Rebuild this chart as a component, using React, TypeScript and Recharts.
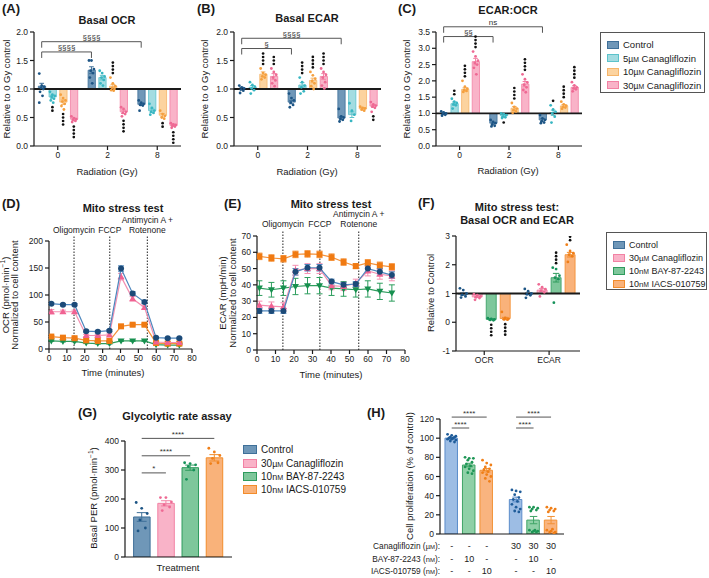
import React from 'react';
import { ComposedChart, Bar, Cell, Scatter, ErrorBar, XAxis, YAxis, ReferenceLine } from 'recharts';

const FONT = 'Arial, "Liberation Sans", Helvetica, sans-serif';
const INK = '#1a1a1a';

// ---------- (A)-(C): radiation dose x canagliflozin ----------
const doseLabels = ['0', '2', '8'];
const canaNames = ['Control', '5µM Canagliflozin', '10µM Canagliflozin', '30µM Canagliflozin'];

// all [series][dose]
const ocrMean = [[1.05, 1.33, 0.73], [0.86, 1.2, 0.62], [0.77, 1.05, 0.54], [0.47, 0.6, 0.36]];
const ocrSem = [[0.05, 0.06, 0.02], [0.03, 0.04, 0.03], [0.04, 0.03, 0.03], [0.02, 0.03, 0.02]];
const ocrDots = [
  [[1.27, 1.06, 1.04, 1.02, 1.0, 0.95, 0.88, 0.76], [1.5, 1.5, 1.35, 1.32, 1.28, 1.2, 1.1], [0.8, 0.76, 0.74, 0.72, 0.71, 0.62]],
  [[0.95, 0.9, 0.88, 0.86, 0.83, 0.8, 0.76], [1.32, 1.28, 1.22, 1.2, 1.16, 1.1, 1.06], [0.74, 0.67, 0.62, 0.6, 0.58, 0.55]],
  [[0.9, 0.84, 0.8, 0.78, 0.74, 0.7, 0.64], [1.2, 1.1, 1.05, 1.02, 1.0, 0.98, 0.97], [0.62, 0.56, 0.53, 0.5, 0.48]],
  [[0.52, 0.49, 0.47, 0.46, 0.44, 0.42], [0.68, 0.65, 0.6, 0.58, 0.56, 0.52], [0.4, 0.38, 0.37, 0.36, 0.34, 0.32]],
];
const ocrStars = [[0, 0, 0], [-2, 0, 0], [-4, 4, -2], [-4, -4, -4]];
const ocrBrackets = [{ a: 0, b: 1, y: 1.65, text: '§§§§' }, { a: 0, b: 2, y: 1.83, text: '§§§§' }];

const ecarMean = [[1.01, 0.77, 0.49], [1.03, 1.07, 0.55], [1.26, 1.15, 0.65], [1.22, 1.22, 0.7]];
const ecarSem = [[0.02, 0.03, 0.03], [0.03, 0.04, 0.05], [0.04, 0.04, 0.02], [0.05, 0.05, 0.02]];
const ecarDots = [
  [[1.06, 1.03, 1.01, 0.99, 0.97, 0.93], [0.92, 0.84, 0.8, 0.76, 0.72, 0.68], [0.65, 0.52, 0.5, 0.48, 0.46, 0.43]],
  [[1.12, 1.07, 1.04, 1.01, 0.98, 0.92], [1.2, 1.12, 1.06, 1.03, 0.96, 0.92], [0.75, 0.62, 0.55, 0.44]],
  [[1.36, 1.28, 1.25, 1.22, 1.2, 1.17], [1.3, 1.24, 1.18, 1.14, 1.1, 1.05, 1.0], [0.69, 0.67, 0.66, 0.64, 0.62]],
  [[1.36, 1.3, 1.25, 1.2, 1.15, 1.1, 1.05], [1.36, 1.3, 1.25, 1.2, 1.12, 1.06, 1.01], [0.77, 0.73, 0.71, 0.69, 0.67, 0.6]],
];
const ecarStars = [[0, 0, 0], [0, 4, 0], [4, 4, 0], [3, 4, -2]];
const ecarBrackets = [{ a: 0, b: 1, y: 1.71, text: '§' }, { a: 0, b: 2, y: 1.89, text: '§§§§' }];

const ratioMean = [[0.99, 0.7, 0.8], [1.3, 0.93, 1.02], [1.74, 1.16, 1.23], [2.59, 1.9, 1.8]];
const ratioSem = [[0.02, 0.03, 0.04], [0.05, 0.03, 0.08], [0.05, 0.05, 0.04], [0.1, 0.08, 0.05]];
const ratioDots = [
  [[1.06, 1.03, 1.0, 0.98, 0.96, 0.93], [0.8, 0.74, 0.7, 0.66, 0.62, 0.6], [0.95, 0.85, 0.8, 0.76, 0.72, 0.7]],
  [[1.45, 1.36, 1.32, 1.28, 1.25, 1.15], [1.0, 0.98, 0.95, 0.9, 0.88, 0.86], [1.25, 1.12, 1.05, 1.0, 0.9, 0.72]],
  [[2.0, 1.82, 1.76, 1.72, 1.69, 1.66], [1.32, 1.2, 1.15, 1.1, 1.06, 1.02], [1.36, 1.28, 1.24, 1.2, 1.18, 1.14]],
  [[2.9, 2.75, 2.62, 2.55, 2.5, 2.4, 2.2], [2.2, 2.05, 1.95, 1.88, 1.8, 1.72, 1.65], [1.96, 1.86, 1.8, 1.77, 1.74, 1.68]],
];
const ratioStars = [[0, 0, 0], [2, -1, 1], [4, 4, 4], [4, 4, 4]];
const ratioBrackets = [{ a: 0, b: 1, y: 3.36, text: '§§' }, { a: 0, b: 2, y: 3.66, text: 'ns' }];

// ---------- (D)-(F): mito stress test ----------
const mitoNames = ['Control', '30µM Canagliflozin', '10nM BAY-87-2243', '10nM IACS-010759'];
const timeMin = [1.3, 7.8, 14.3, 20.8, 27.3, 33.8, 40.3, 46.8, 53.4, 59.9, 66.4, 72.9];
const injectionTimes = [14, 34, 55];
const injectionLabels = [['Oligomycin'], ['FCCP'], ['Antimycin A +', 'Rotenone']];

// [series][timepoint]
const ocrTrace = [
  [84, 82, 82, 33, 32, 34, 149, 103, 87, 21, 20, 20],
  [69, 69, 69, 25, 25, 26, 134, 93, 77, 13, 12, 12],
  [15, 14, 14, 11, 10, 10, 15, 15, 15, 8, 7, 7],
  [23, 21, 20, 16, 15, 15, 42, 45, 45, 11, 10, 10],
];
const ocrTraceSem = [
  [2, 2, 2, 2, 2, 2, 5, 3, 3, 1.5, 1.5, 1.5],
  [4, 3, 3, 2, 2, 2, 6, 4, 3, 1, 1, 1],
  [1, 1, 1, 1, 1, 1, 1, 1, 1, 1, 1, 1],
  [2, 2, 2, 1, 1, 1, 2, 2, 2, 1, 1, 1],
];
const ecarTrace = [
  [24, 24, 24, 48, 50.5, 50.5, 42, 40, 40.5, 50, 48, 46],
  [27.5, 27, 26.5, 49, 50, 50, 39.5, 39, 41, 48.5, 46.5, 45.5],
  [38, 37, 38, 39, 39.5, 39.5, 38, 37.5, 37, 37.5, 36, 35],
  [57.5, 56.5, 56, 58.7, 59, 58.7, 57, 54, 51.5, 53.5, 52, 51],
];
const ecarTraceSem = [
  [1.5, 1.5, 1.5, 2, 2, 2, 1.5, 1.5, 1.5, 2, 2, 2],
  [2.5, 2.5, 2.5, 3, 3, 3, 2.5, 2.5, 2.5, 3, 3, 3],
  [4.5, 4.5, 4.5, 5, 5, 5, 4.5, 4.5, 4.5, 5, 5, 5],
  [2, 2, 2, 2, 2, 2, 2, 2, 1.5, 2, 2, 2],
];

const basalLabels = ['OCR', 'ECAR'];
const basalMean = [[0.98, 0.99], [0.88, 1.12], [0.1, 1.55], [0.13, 2.35]];
const basalSem = [[0.04, 0.03], [0.02, 0.05], [0.02, 0.15], [0.04, 0.08]];
const basalDots = [
  [[1.18, 1.12, 1.0, 0.95, 0.9, 0.86], [1.16, 1.08, 1.0, 0.97, 0.94, 0.85]],
  [[0.98, 0.94, 0.9, 0.87, 0.84, 0.78], [1.32, 1.22, 1.15, 1.1, 1.04, 0.9]],
  [[0.14, 0.12, 0.1, 0.08, 0.07], [1.9, 1.85, 1.62, 1.55, 1.5, 0.68]],
  [[0.36, 0.15, 0.12, 0.1, 0.09], [2.7, 2.48, 2.4, 2.35, 2.3, 2.1]],
];
const basalStars = [[0, 0], [0, 0], [-4, 4], [-4, 4]];

// ---------- (G) glycolytic rate assay ----------
const perMean = [138, 185, 308, 342];
const perSem = [15, 9, 9, 11];
const perDots = [
  [188, 168, 150, 128, 100, 90],
  [205, 205, 190, 180, 172, 160],
  [325, 322, 318, 312, 300, 268],
  [375, 362, 350, 340, 325, 322],
];
const perLinks = [{ a: 0, b: 1, y: 290, text: '*' }, { a: 0, b: 2, y: 349, text: '****' }, { a: 0, b: 3, y: 409, text: '****' }];

// ---------- (H) proliferation ----------
const prolMean = [100, 72, 66.5, 36, 14.5, 14.5];
const prolSem = [1, 1.8, 1.8, 2.5, 3.8, 3.8];
const prolDots = [
  [104, 103, 102, 101, 101, 100, 100, 99, 99, 98, 97, 96],
  [80, 79, 79, 77, 75, 73, 71, 70, 68, 66, 64, 63],
  [77, 74, 72, 70, 68, 67, 65, 64, 62, 60, 58, 55],
  [46, 45, 44, 41, 38, 36, 34, 31, 28, 26, 24, 23],
  [28, 28, 27, 26, 25, 24, 4, 4, 3, 3, 2, 2],
  [28, 27, 26, 25, 24, 23, 5, 4, 3, 2, 2, 1],
];
const prolLinks = [
  { a: 0, b: 1, y: 110.6, text: '****' }, { a: 0, b: 2, y: 122, text: '****' },
  { a: 3, b: 4, y: 110.6, text: '****' }, { a: 3, b: 5, y: 122, text: '****' },
];
const canaRow = ['-', '-', '-', '30', '30', '30'];
const bayRow = ['-', '10', '-', '-', '10', '-'];
const iacsRow = ['-', '-', '10', '-', '-', '10'];

// ---------- styles ----------
const canaFill = ['#6f97b8', '#a3dce1', '#fcd39f', '#f9b3c8'];
const canaStroke = ['#3f7099', '#5cc3cb', '#f6b56a', '#f282a4'];
const canaDot = ['#1d5585', '#38b6c2', '#f5a03f', '#ee6a94'];
const mitoFill = ['#6f97b8', '#f9b3c8', '#7ec79b', '#f9b27a'];
const mitoStroke = ['#3f7099', '#f282a4', '#2e9b5d', '#f28c2c'];
const mitoDot = ['#1d5585', '#ee6a94', '#16925a', '#f07f18'];
const traceLine = ['#4d86bd', '#f48fb1', '#2e9e5e', '#f5923a'];
const traceMarker = ['#1c4a78', '#f06292', '#17904f', '#f07a12'];
const traceShape = ['circle', 'up', 'down', 'square'];
const prolFill = ['#9dbde4', '#8fd0a7', '#f9b47f'];
const prolStroke = ['#5b8cca', '#3fa567', '#f29236'];
const prolDot = ['#1f5c99', '#1e9656', '#f07f18'];
const prolColor = [0, 1, 2, 0, 1, 2];

const ML = 44, MR = 26, MT = 34, MB = 30;
const axisLine = { stroke: INK, strokeWidth: 1.2 };
const tickStyle = { fontSize: 8.5, fill: INK, fontFamily: FONT };

const place = (plot: number[]) => ({
  left: plot[0] - ML,
  top: plot[1] - MT,
  width: plot[2] - plot[0] + ML + MR,
  height: plot[3] - plot[1] + MT + MB,
});

const hidden = () => <g />;

const dotShape = (color: string, spread: number) => (p: any) => {
  const k = p.payload?.k ?? 0;
  const dx = (((k * 3) % 7) - 3) * spread;
  return <circle cx={p.cx + dx} cy={p.cy} r={1.4} fill={color} />;
};

const starShape = (p: any) => {
  const n = p.payload?.n ?? 0;
  const dir = n > 0 ? -1 : 1;
  return (
    <g>
      {Array.from({ length: Math.abs(n) }, (_, i) => (
        <circle key={i} cx={p.cx} cy={p.cy + dir * (4.5 + i * 3.5)} r={1.35} fill="#111" />
      ))}
    </g>
  );
};

const markerShape = (kind: string, color: string) => (p: any) => {
  const { cx, cy } = p;
  const r = 3;
  if (kind === 'circle') return <circle cx={cx} cy={cy} r={r} fill={color} />;
  if (kind === 'square') return <rect x={cx - r} y={cy - r} width={2 * r} height={2 * r} fill={color} />;
  if (kind === 'up') return <path d={`M${cx},${cy - r - 0.5}L${cx + r + 0.5},${cy + r - 0.5}L${cx - r - 0.5},${cy + r - 0.5}Z`} fill={color} />;
  return <path d={`M${cx},${cy + r + 0.5}L${cx + r + 0.5},${cy - r + 0.5}L${cx - r - 0.5},${cy - r + 0.5}Z`} fill={color} />;
};

function unitText(name: string) {
  return name.split(/(µM|nM)/).map((part, i) =>
    part === 'µM' || part === 'nM' ? (
      <span key={i}>
        <span style={{ fontSize: '0.9em' }}>{part[0]}</span>
        <span style={{ fontSize: '0.72em' }}>{part[1]}</span>
      </span>
    ) : (
      <span key={i}>{part}</span>
    )
  );
}

function Txt({ x, y, children, size = 9.5, bold = false, align = 'middle', rotate = false }: any) {
  const tx = align === 'start' ? '0' : align === 'end' ? '-100%' : '-50%';
  return (
    <div
      style={{
        position: 'absolute', left: x, top: y,
        transform: `translate(${tx}, -50%)${rotate ? ' rotate(-90deg)' : ''}`,
        fontSize: size, fontWeight: bold ? 700 : 400, whiteSpace: 'nowrap',
        lineHeight: 1, fontFamily: FONT, color: INK, textAlign: 'center',
      }}
    >
      {children}
    </div>
  );
}

function Legend({ left, top, width, height, names, fills, strokes, rowH, boxed, size = 9.5 }: any) {
  return (
    <div
      style={{
        position: 'absolute', left, top, width, height, boxSizing: 'border-box',
        border: boxed ? '1px solid #555' : 'none', padding: boxed ? '5px 0 0 6px' : 0,
        fontFamily: FONT, fontSize: size, color: INK,
      }}
    >
      {names.map((n: string, i: number) => (
        <div key={n} style={{ display: 'flex', alignItems: 'center', height: rowH, whiteSpace: 'nowrap' }}>
          <span style={{ display: 'inline-block', width: boxed ? 12 : 14, height: boxed ? 8 : 9, background: fills[i], border: `1px solid ${strokes[i]}`, marginRight: 4, boxSizing: 'border-box' }} />
          <span>{unitText(n)}</span>
        </div>
      ))}
    </div>
  );
}

function linkLines(key: string, xa: number, xb: number, y: number, text: string, drop: number, fontSize: number) {
  const common = { stroke: '#555', strokeWidth: 1, ifOverflow: 'visible' as const };
  const out = [
    <ReferenceLine key={key + 'h'} segment={[{ x: xa, y }, { x: xb, y }]} {...common}
      label={{ value: text, position: 'top', offset: 1.5, fontSize, fill: '#333', fontFamily: FONT }} />,
  ];
  if (drop > 0) {
    out.push(<ReferenceLine key={key + 'l'} segment={[{ x: xa, y }, { x: xa, y: y - drop }]} {...common} />);
    out.push(<ReferenceLine key={key + 'r'} segment={[{ x: xb, y }, { x: xb, y: y - drop }]} {...common} />);
  }
  return out;
}

function BaselinePanel(props: any) {
  const { plot, groups, stride, xDomain, yDomain, yTicks, yDigits, mean, sem, dots, stars, fills, strokes, dotColors, barSize, brackets = [] } = props;
  const box = place(plot);
  const nS = mean.length;
  const posOf = (s: number, g: number) => g * stride + s;
  const centers = groups.map((_: string, g: number) => posOf((nS - 1) / 2, g));
  const barRows = mean.flatMap((row: number[], s: number) => row.map((m, g) => ({ pos: posOf(s, g), range: [1, m], s })));
  const drop = ((yDomain[1] - yDomain[0]) * 6) / (plot[3] - plot[1]);
  const starRows: any[] = [];
  stars.forEach((row: number[], s: number) =>
    row.forEach((n, g) => {
      if (!n) return;
      const pts = dots[s][g];
      const y = n > 0 ? Math.max(...pts, mean[s][g] + sem[s][g]) : Math.min(...pts, mean[s][g] - sem[s][g]);
      starRows.push({ pos: posOf(s, g), y, n });
    })
  );
  return (
    <div style={{ position: 'absolute', left: box.left, top: box.top }}>
      <ComposedChart width={box.width} height={box.height} data={barRows} margin={{ top: MT, right: MR, bottom: 0, left: 0 }}>
        <XAxis type="number" dataKey="pos" domain={xDomain} allowDataOverflow ticks={centers} interval={0}
          tickFormatter={(v: number) => groups[centers.indexOf(v)] ?? ''} height={MB}
          axisLine={axisLine} tickLine={axisLine} tickSize={4} tick={tickStyle} />
        <YAxis type="number" domain={yDomain} allowDataOverflow ticks={yTicks} interval={0} width={ML}
          tickFormatter={(v: number) => v.toFixed(yDigits)} axisLine={axisLine} tickLine={axisLine} tickSize={4} tick={tickStyle} />
        <Bar dataKey="range" barSize={barSize} isAnimationActive={false}>
          {barRows.map((r: any, i: number) => (
            <Cell key={i} fill={fills[r.s]} stroke={strokes[r.s]} strokeWidth={0.8} />
          ))}
        </Bar>
        {mean.map((row: number[], s: number) => (
          <Scatter key={'e' + s} data={row.map((m, g) => ({ pos: posOf(s, g), y: m, err: sem[s][g] }))}
            dataKey="y" shape={hidden} isAnimationActive={false}>
            <ErrorBar dataKey="err" direction="y" width={barSize * 0.32} stroke={strokes[s]} strokeWidth={1} />
          </Scatter>
        ))}
        {dots.map((gp: number[][], s: number) => (
          <Scatter key={'d' + s} data={gp.flatMap((pts, g) => pts.map((v, k) => ({ pos: posOf(s, g), y: v, k })))}
            dataKey="y" shape={dotShape(dotColors[s], barSize / 9)} isAnimationActive={false} />
        ))}
        <ReferenceLine y={1} stroke={INK} strokeWidth={1.8} />
        <Scatter data={starRows} dataKey="y" shape={starShape} isAnimationActive={false} />
        {brackets.flatMap((b: any, i: number) => linkLines('b' + i, posOf(0, b.a), posOf(0, b.b), b.y, b.text, drop, 8))}
      </ComposedChart>
    </div>
  );
}

const injectionLabel = (lines: string[]) => (p: any) => {
  const vb = p.viewBox || {};
  const x = (vb.x ?? 0) + (vb.width ?? 0) / 2;
  return (
    <text textAnchor="middle" fontSize={8.5} fontFamily={FONT} fill={INK}>
      {lines.map((l, j) => (
        <tspan key={j} x={x} y={(vb.y ?? 0) - 3 - (lines.length - 1 - j) * 10}>{l}</tspan>
      ))}
    </text>
  );
};

function MitoPanel({ plot, yDomain, yTicks, means, sems, order }: any) {
  const box = place(plot);
  const segTop = yDomain[1] + (yDomain[1] - yDomain[0]) * 0.05;
  return (
    <div style={{ position: 'absolute', left: box.left, top: box.top }}>
      <ComposedChart width={box.width} height={box.height} margin={{ top: MT, right: MR, bottom: 0, left: 0 }}>
        <XAxis type="number" dataKey="t" domain={[0, 80]} allowDataOverflow ticks={[0, 10, 20, 30, 40, 50, 60, 70, 80]} interval={0}
          height={MB} axisLine={axisLine} tickLine={axisLine} tickSize={4} tick={tickStyle} />
        <YAxis type="number" domain={yDomain} allowDataOverflow ticks={yTicks} interval={0} width={ML}
          axisLine={axisLine} tickLine={axisLine} tickSize={4} tick={tickStyle} />
        {injectionTimes.map((t, i) => (
          <ReferenceLine key={'inj' + i} segment={[{ x: t, y: yDomain[0] }, { x: t, y: segTop }]} stroke="#222"
            strokeDasharray="1.5 1.5" strokeWidth={1} ifOverflow="visible" label={injectionLabel(injectionLabels[i])} />
        ))}
        {order.map((s: number) => (
          <Scatter key={'s' + s} data={timeMin.map((t, i) => ({ t, y: means[s][i], err: sems[s][i] }))} dataKey="y"
            line={{ stroke: traceLine[s], strokeWidth: 1.2 }} lineType="joint"
            shape={markerShape(traceShape[s], traceMarker[s])} isAnimationActive={false}>
            <ErrorBar dataKey="err" direction="y" width={3} stroke={traceLine[s]} strokeWidth={1} />
          </Scatter>
        ))}
      </ComposedChart>
    </div>
  );
}

function SimplePanel({ plot, positions, xDomain, yDomain, yTicks, mean, sem, dots, colorIdx, fills, strokes, dotColors, barSize, links, tick }: any) {
  const box = place(plot);
  const rows = positions.map((pos: number, i: number) => ({ pos, v: mean[i], i }));
  return (
    <div style={{ position: 'absolute', left: box.left, top: box.top }}>
      <ComposedChart width={box.width} height={box.height} data={rows} margin={{ top: MT, right: MR, bottom: 0, left: 0 }}>
        <XAxis type="number" dataKey="pos" domain={xDomain} allowDataOverflow ticks={tick ? positions : []} interval={0}
          height={MB} axisLine={axisLine} tickLine={false} tickSize={0} tickMargin={0} tick={tick || false} />
        <YAxis type="number" domain={yDomain} allowDataOverflow ticks={yTicks} interval={0} width={ML}
          axisLine={axisLine} tickLine={axisLine} tickSize={4} tick={tickStyle} />
        <Bar dataKey="v" barSize={barSize} isAnimationActive={false}>
          {rows.map((r: any, i: number) => (
            <Cell key={i} fill={fills[colorIdx[i]]} stroke={strokes[colorIdx[i]]} strokeWidth={1} />
          ))}
        </Bar>
        {rows.map((r: any, i: number) => (
          <Scatter key={'e' + i} data={[{ pos: r.pos, y: mean[i], err: sem[i] }]} dataKey="y" shape={hidden} isAnimationActive={false}>
            <ErrorBar dataKey="err" direction="y" width={barSize * 0.3} stroke={strokes[colorIdx[i]]} strokeWidth={1} />
          </Scatter>
        ))}
        {rows.map((r: any, i: number) => (
          <Scatter key={'d' + i} data={dots[i].map((v: number, k: number) => ({ pos: r.pos, y: v, k }))} dataKey="y"
            shape={dotShape(dotColors[colorIdx[i]], barSize / 9)} isAnimationActive={false} />
        ))}
        {links.flatMap((l: any, i: number) => linkLines('l' + i, positions[l.a], positions[l.b], l.y, l.text, 0, 8))}
      </ComposedChart>
    </div>
  );
}

const prolPositions = [0, 1, 2, 3.68, 4.68, 5.68];
const prolTick = (p: any) => {
  const i = prolPositions.indexOf(p.payload?.value);
  return (
    <g>
      {[canaRow, bayRow, iacsRow].map((row, r) => (
        <text key={r} x={p.x} y={p.y + 15 + r * 12.5} textAnchor="middle" fontSize={9} fontFamily={FONT} fill={INK}>
          {row[i] ?? ''}
        </text>
      ))}
    </g>
  );
};

const radTicks = [0, 0.5, 1, 1.5, 2];

export default function App() {
  return (
    <div style={{ position: 'absolute', left: 0, top: 0, width: 709, height: 578, background: '#fff', overflow: 'hidden', fontFamily: FONT }}>
      <style>{'.recharts-surface{overflow:visible}'}</style>

      {/* (A) */}
      <Txt x={2} y={8} size={13} bold align="start">(A)</Txt>
      <Txt x={107} y={20} size={11} bold>Basal OCR</Txt>
      <Txt x={7} y={89} rotate>Relative to 0 Gy control</Txt>
      <Txt x={107} y={172}>Radiation (Gy)</Txt>
      <BaselinePanel plot={[34, 32, 181, 146]} groups={doseLabels} stride={4.65} xDomain={[-0.72, 13.02]}
        yDomain={[0, 2]} yTicks={radTicks} yDigits={1} mean={ocrMean} sem={ocrSem} dots={ocrDots} stars={ocrStars}
        fills={canaFill} strokes={canaStroke} dotColors={canaDot} barSize={7.3} brackets={ocrBrackets} />

      {/* (B) */}
      <Txt x={197} y={8} size={13} bold align="start">(B)</Txt>
      <Txt x={307} y={18} size={11} bold>Basal ECAR</Txt>
      <Txt x={205} y={89} rotate>Relative to 0 Gy control</Txt>
      <Txt x={307} y={172}>Radiation (Gy)</Txt>
      <BaselinePanel plot={[234, 32, 381, 146]} groups={doseLabels} stride={4.65} xDomain={[-0.72, 13.02]}
        yDomain={[0, 2]} yTicks={radTicks} yDigits={1} mean={ecarMean} sem={ecarSem} dots={ecarDots} stars={ecarStars}
        fills={canaFill} strokes={canaStroke} dotColors={canaDot} barSize={7.3} brackets={ecarBrackets} />

      {/* (C) */}
      <Txt x={398} y={8} size={13} bold align="start">(C)</Txt>
      <Txt x={508} y={10} size={11} bold>ECAR:OCR</Txt>
      <Txt x={407} y={89} rotate>Relative to 0 Gy control</Txt>
      <Txt x={508} y={171}>Radiation (Gy)</Txt>
      <BaselinePanel plot={[436, 32, 582, 146]} groups={doseLabels} stride={4.65} xDomain={[-0.72, 13.02]}
        yDomain={[0, 3.5]} yTicks={[0, 0.5, 1, 1.5, 2, 2.5, 3, 3.5]} yDigits={1} mean={ratioMean} sem={ratioSem}
        dots={ratioDots} stars={ratioStars} fills={canaFill} strokes={canaStroke} dotColors={canaDot} barSize={7.3}
        brackets={ratioBrackets} />
      <Legend left={600} top={32} width={105} height={61} names={canaNames} fills={canaFill} strokes={canaStroke} rowH={13.5} boxed />

      {/* (D) */}
      <Txt x={2} y={203} size={13} bold align="start">(D)</Txt>
      <Txt x={123} y={208} size={11} bold>Mito stress test</Txt>
      <Txt x={5} y={295} rotate>OCR (pmol·min<sup style={{ fontSize: '0.7em' }}>−1</sup>)</Txt>
      <Txt x={15} y={295} rotate>Normalized to cell content</Txt>
      <Txt x={113} y={373}>Time (minutes)</Txt>
      <MitoPanel plot={[49, 241, 192, 349]} yDomain={[0, 200]} yTicks={[0, 50, 100, 150, 200]}
        means={ocrTrace} sems={ocrTraceSem} order={[2, 3, 1, 0]} />

      {/* (E) */}
      <Txt x={224} y={203} size={13} bold align="start">(E)</Txt>
      <Txt x={331} y={204} size={11} bold>Mito stress test</Txt>
      <Txt x={223} y={293} rotate>ECAR (mpH/min)</Txt>
      <Txt x={233} y={293} rotate>Normalized to cell content</Txt>
      <Txt x={331} y={375}>Time (minutes)</Txt>
      <MitoPanel plot={[257, 236, 405, 350]} yDomain={[0, 70]} yTicks={[0, 10, 20, 30, 40, 50, 60, 70]}
        means={ecarTrace} sems={ecarTraceSem} order={[2, 3, 1, 0]} />

      {/* (F) */}
      <Txt x={418} y={202} size={13} bold align="start">(F)</Txt>
      <Txt x={517} y={207} size={11} bold>Mito stress test:</Txt>
      <Txt x={517} y={220} size={11} bold>Basal OCR and ECAR</Txt>
      <Txt x={431} y={293} rotate>Relative to Control</Txt>
      <BaselinePanel plot={[456, 236, 580, 351]} groups={basalLabels} stride={4.64} xDomain={[-0.52, 8.35]}
        yDomain={[-1, 3]} yTicks={[-1, 0, 1, 2, 3]} yDigits={0} mean={basalMean} sem={basalSem} dots={basalDots}
        stars={basalStars} fills={mitoFill} strokes={mitoStroke} dotColors={mitoDot} barSize={10} />
      <Legend left={606} top={232} width={101} height={58} names={mitoNames} fills={mitoFill} strokes={mitoStroke} rowH={13} size={9} boxed />

      {/* (G) */}
      <Txt x={78} y={412} size={13} bold align="start">(G)</Txt>
      <Txt x={177} y={416} size={11} bold>Glycolytic rate assay</Txt>
      <Txt x={93} y={498} rotate>Basal PER (pmol·min<sup style={{ fontSize: '0.7em' }}>−1</sup>)</Txt>
      <Txt x={178} y={568}>Treatment</Txt>
      <SimplePanel plot={[125, 441, 232, 557]} positions={[0, 1, 2, 3]} xDomain={[-0.69, 3.73]} yDomain={[0, 400]}
        yTicks={[0, 100, 200, 300, 400]} mean={perMean} sem={perSem} dots={perDots} colorIdx={[0, 1, 2, 3]}
        fills={mitoFill} strokes={mitoStroke} dotColors={mitoDot} barSize={16.5} links={perLinks} />
      <Legend left={243} top={443} width={120} height={56} names={mitoNames} fills={mitoFill} strokes={mitoStroke} rowH={13.4} size={10} />

      {/* (H) */}
      <Txt x={367} y={412} size={13} bold align="start">(H)</Txt>
      <Txt x={410} y={476} rotate>Cell proliferation (% of control)</Txt>
      <Txt x={440} y={546} size={8.3} align="end">{unitText('Canagliflozin (µM):')}</Txt>
      <Txt x={440} y={559} size={8.3} align="end">{unitText('BAY-87-2243 (nM):')}</Txt>
      <Txt x={440} y={571} size={8.3} align="end">{unitText('IACS-010759 (nM):')}</Txt>
      <SimplePanel plot={[440, 419, 564, 534]} positions={prolPositions} xDomain={[-0.67, 6.42]} yDomain={[0, 120]}
        yTicks={[0, 20, 40, 60, 80, 100, 120]} mean={prolMean} sem={prolSem} dots={prolDots} colorIdx={prolColor}
        fills={prolFill} strokes={prolStroke} dotColors={prolDot} barSize={12.5} links={prolLinks} tick={prolTick} />
    </div>
  );
}
